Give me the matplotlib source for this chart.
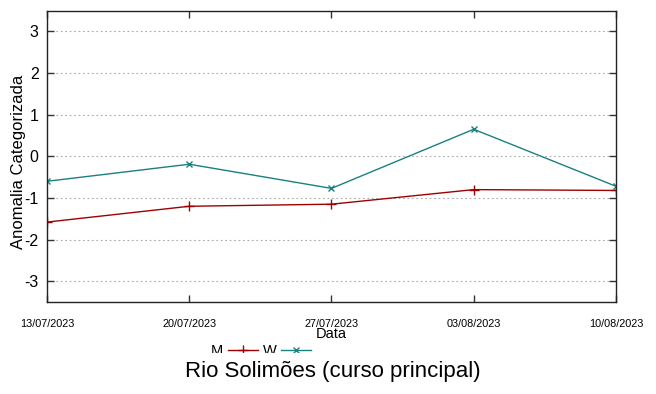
import datetime as dt

import matplotlib
matplotlib.use("Agg")
import matplotlib.pyplot as plt
import matplotlib.dates as mdates
from matplotlib.patches import Rectangle

plt.rcParams["font.family"] = ["Liberation Sans", "DejaVu Sans"]
plt.rcParams["axes.unicode_minus"] = False

dates = ["13/07/2023", "20/07/2023", "27/07/2023", "03/08/2023", "10/08/2023"]
m_values = [-1.58, -1.20, -1.15, -0.80, -0.82]
w_values = [-0.60, -0.19, -0.77, 0.65, -0.72]
y_ticks = [-3, -2, -1, 0, 1, 2, 3]

x = [dt.datetime.strptime(d, "%d/%m/%Y") for d in dates]

fig = plt.figure(figsize=(6.56, 3.94), dpi=100)
ax = fig.add_axes([0.0716, 0.2335, 0.8674, 0.7395])

ax.plot(x, m_values, color="#a00000", linewidth=1.0, marker="+",
        markersize=7, markeredgewidth=1.0, label="M")
ax.plot(x, w_values, color="#1a8080", linewidth=1.0, marker="x",
        markersize=5, markeredgewidth=1.0, label="W")

ax.set_xlim(x[0], x[-1])
ax.set_ylim(-3.5, 3.5)
ax.set_xticks(x)
ax.xaxis.set_major_formatter(mdates.DateFormatter("%d/%m/%Y"))
ax.set_yticks(y_ticks)
ax.tick_params(direction="in", top=True, right=True, length=5, width=1,
               color="#333333")
ax.tick_params(axis="x", labelsize=7.8, pad=12)
ax.tick_params(axis="y", labelsize=11.5, pad=6)
ax.grid(axis="y", color="#aaaaaa", linestyle=(0, (1.5, 2.5)), linewidth=0.8)
for spine in ax.spines.values():
    spine.set_color("#222222")
    spine.set_linewidth(1.0)

ax.set_ylabel("Anomalia Categorizada", fontsize=12)
ax.yaxis.set_label_coords(-0.037, 0.48)
ax.set_xlabel("Data", fontsize=10.5, labelpad=-1)

fig.legend(loc="center", bbox_to_anchor=(0.398, 0.11), ncol=2, frameon=False,
           fontsize=10.5, handlelength=2.1, columnspacing=0.3,
           handletextpad=0.3, markerfirst=False)
# the legend row is cut off at the bottom, as in the original canvas
fig.add_artist(Rectangle((0.25, 0.083), 0.5, 0.021, transform=fig.transFigure,
                         facecolor="white", edgecolor="none", zorder=10))

fig.text(0.507, 0.056, "Rio Solimões (curso principal)", ha="center",
         va="center", fontsize=16, zorder=11)

fig.savefig("out.png", dpi=100)
